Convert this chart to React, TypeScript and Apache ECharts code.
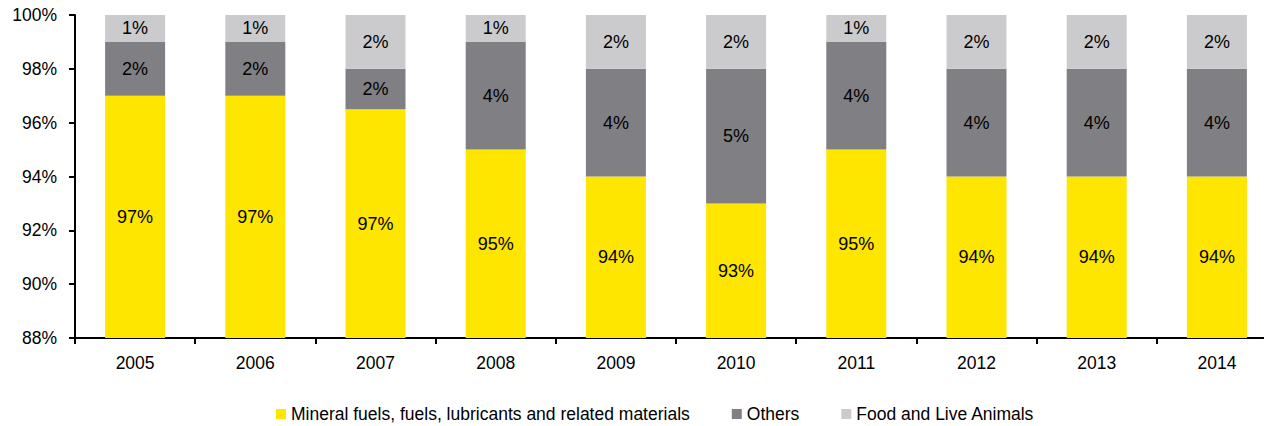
import React, { useEffect, useRef } from "react";
import * as echarts from "echarts";

// Share of imports by product group, 2005–2014 (percent)
const years = ["2005", "2006", "2007", "2008", "2009", "2010", "2011", "2012", "2013", "2014"];
const mineralFuels = [97, 97, 96.5, 95, 94, 93, 95, 94, 94, 94];
const others = [2, 2, 1.5, 4, 4, 5, 4, 4, 4, 4];
const foodLiveAnimals = [1, 1, 2, 1, 2, 2, 1, 2, 2, 2];

const yTicks = { min: 88, max: 100, interval: 2 };

const FONT = "'Liberation Sans', Arial, sans-serif";
const FS = 17.5;

const pct = (p: any) => `${Math.round(p.value)}%`;

export default function App() {
  const ref = useRef<HTMLDivElement>(null);

  useEffect(() => {
    if (!ref.current) return;
    const chart = echarts.init(ref.current, undefined, { renderer: "svg" });

    const label = {
      show: true,
      position: "inside" as const,
      color: "#000",
      fontFamily: FONT,
      fontSize: 18,
      formatter: pct,
    };

    chart.setOption({
      animation: false,
      backgroundColor: "#fff",
      textStyle: { fontFamily: FONT },
      grid: { left: 75, top: 15, width: 1202, height: 323, containLabel: false },
      legend: {
        left: 271,
        top: 400,
        itemWidth: 10,
        itemHeight: 10,
        itemGap: 42,
        icon: "rect",
        textStyle: { color: "#000", fontFamily: FONT, fontSize: FS },
        data: [
          "Mineral fuels, fuels, lubricants and related materials",
          "Others",
          "Food and Live Animals",
        ],
      },
      xAxis: {
        type: "category",
        data: years,
        axisLine: { lineStyle: { color: "#000", width: 2 } },
        axisTick: { show: true, length: 6, lineStyle: { color: "#000", width: 2 } },
        axisLabel: { color: "#000", fontFamily: FONT, fontSize: FS, margin: 16 },
      },
      yAxis: {
        type: "value",
        min: yTicks.min,
        max: yTicks.max,
        interval: yTicks.interval,
        splitLine: { show: false },
        axisLine: { show: true, lineStyle: { color: "#000", width: 2 } },
        axisTick: { show: true, length: 6, lineStyle: { color: "#000", width: 2 } },
        axisLabel: {
          color: "#000",
          fontFamily: FONT,
          fontSize: FS,
          margin: 18,
          formatter: (v: number) => `${v}%`,
        },
      },
      series: [
        {
          name: "Mineral fuels, fuels, lubricants and related materials",
          type: "bar",
          stack: "total",
          barWidth: 60,
          data: mineralFuels,
          itemStyle: { color: "#FFE600" },
          label,
        },
        {
          name: "Others",
          type: "bar",
          stack: "total",
          barWidth: 60,
          data: others,
          itemStyle: { color: "#807F83" },
          label,
        },
        {
          name: "Food and Live Animals",
          type: "bar",
          stack: "total",
          barWidth: 60,
          data: foodLiveAnimals,
          itemStyle: { color: "#CBCBCD" },
          label,
        },
      ],
    });

    return () => chart.dispose();
  }, []);

  return (
    <div style={{ position: "absolute", left: 0, top: 0, width: 1264, height: 426, overflow: "hidden" }}>
      <div ref={ref} style={{ width: 1300, height: 426 }} />
    </div>
  );
}
